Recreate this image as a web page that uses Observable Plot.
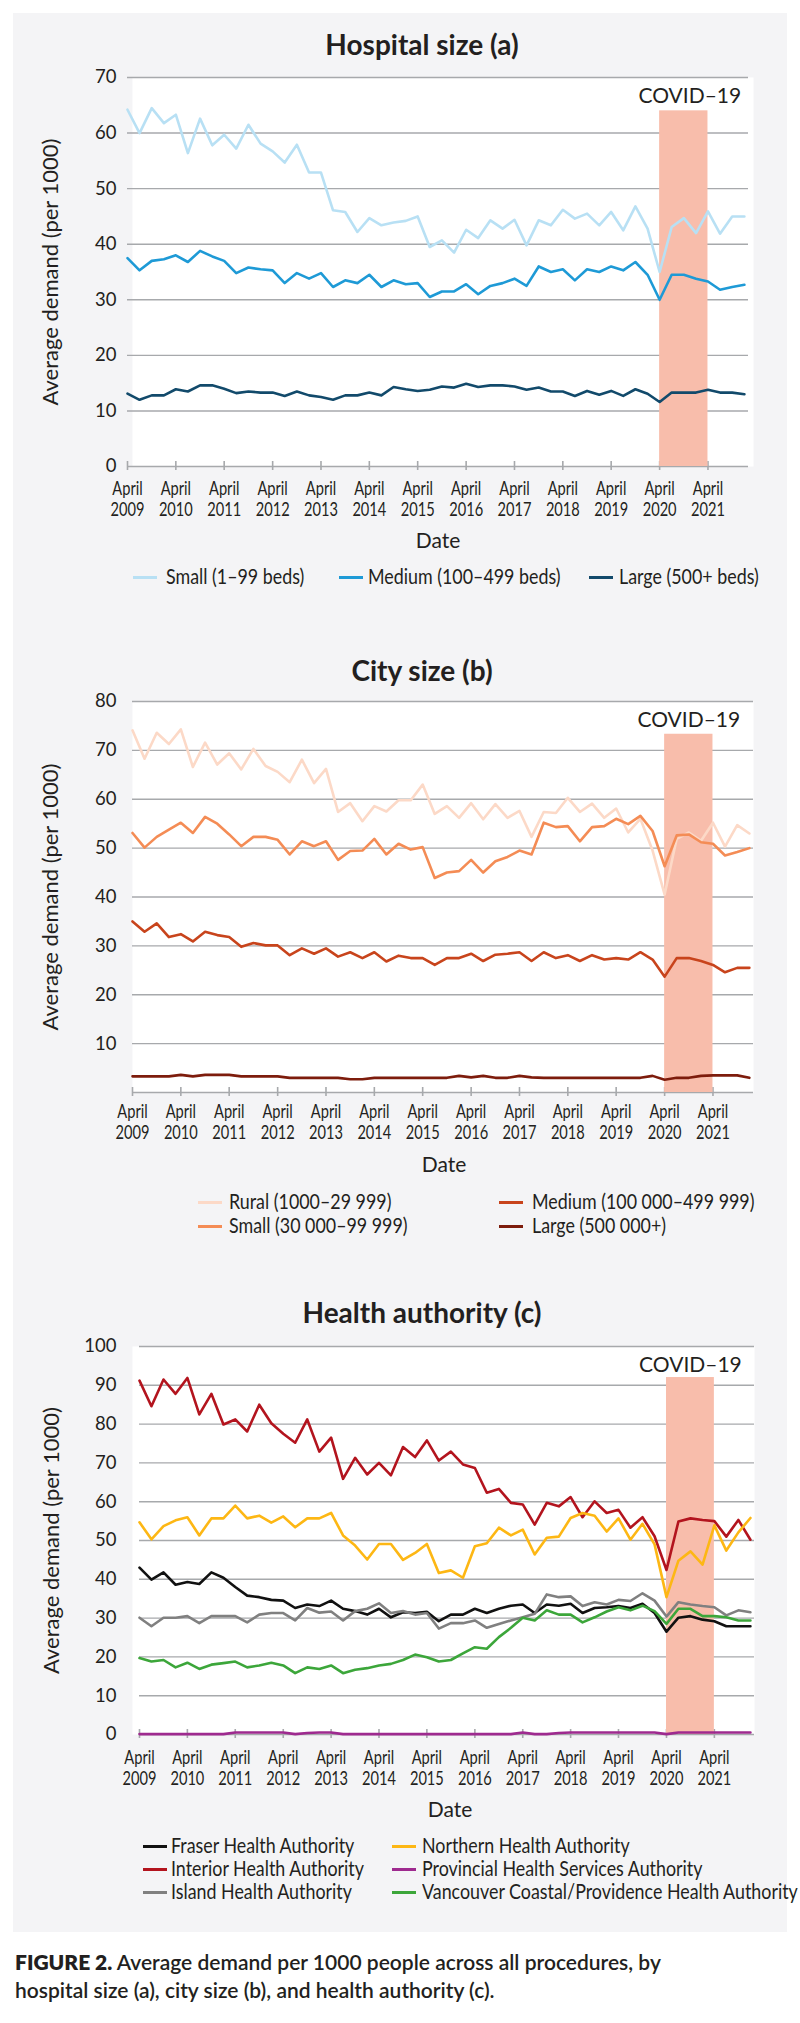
<!DOCTYPE html>
<html><head><meta charset="utf-8">
<script src="https://cdn.jsdelivr.net/npm/d3@7"></script>
<script src="https://cdn.jsdelivr.net/npm/@observablehq/plot@0.6"></script>
<style>
body{margin:0;background:#fff;font-family:Lato,"Open Sans",sans-serif;color:#231f20;}
#page{position:relative;width:800px;height:2023px;overflow:hidden;}
#panel{position:absolute;left:13px;top:13px;width:774px;height:1919px;background:#f4f4f6;}
.abs{position:absolute;white-space:nowrap;line-height:1;}
.title{font-weight:700;font-size:28px;transform:translateX(-50%);}
.sw{position:absolute;height:3px;width:24px;}
.lt{font-size:21px;transform:scaleX(0.85);transform-origin:0 0;}
.cap{position:absolute;left:15px;top:1948px;font-size:21px;line-height:28px;font-weight:600;white-space:nowrap;color:#231f20;}
.cap b{font-weight:800;}
</style></head><body><div id="page"><div id="panel"></div></div>
<script>
// ---------- data ----------
const tickYears = [2009,2010,2011,2012,2013,2014,2015,2016,2017,2018,2019,2020,2021];
const covidStart = "2020-04-01";
const covidEnd = "2021-04-01";

const hospitalNames = ["Small (1\u201399 beds)", "Medium (100\u2013499 beds)", "Large (500+ beds)"];
const hospitalColors = ["#b8e0f4", "#1e9ad6", "#124a6b"];
const hospitalSmall = [64.2,60.0,64.5,61.8,63.3,56.4,62.6,57.8,59.7,57.2,61.5,58.1,56.7,54.7,57.9,52.9,52.9,46.1,45.8,42.2,44.7,43.4,43.9,44.2,45.0,39.5,40.7,38.5,42.6,41.1,44.3,42.8,44.4,39.8,44.3,43.4,46.2,44.6,45.5,43.4,45.8,42.5,46.8,42.8,35.0,43.1,44.7,42.0,45.9,41.9,45.0,45.0];
const hospitalMedium = [37.5,35.3,37,37.3,38,36.8,38.8,37.8,37,34.8,35.8,35.5,35.3,33,34.8,33.8,34.8,32.3,33.5,33,34.5,32.3,33.5,32.8,33,30.5,31.5,31.5,32.8,31,32.5,33,33.8,32.5,36,35,35.5,33.5,35.5,35,36,35.3,36.8,34.5,30,34.5,34.5,33.8,33.3,31.8,32.3,32.7];
const hospitalLarge = [13.1,12.0,12.8,12.8,13.9,13.5,14.6,14.6,14.0,13.2,13.5,13.3,13.3,12.7,13.5,12.8,12.5,12.0,12.8,12.8,13.3,12.8,14.3,13.9,13.6,13.8,14.4,14.2,14.9,14.3,14.6,14.6,14.4,13.8,14.2,13.5,13.5,12.7,13.6,12.9,13.6,12.7,13.9,13.1,11.6,13.3,13.3,13.3,13.8,13.3,13.3,13.0];

const cityNames = ["Rural (1000\u201329 999)", "Small (30 000\u201399 999)", "Medium (100 000\u2013499 999)", "Large (500 000+)"];
const cityColors = ["#fcd9c7", "#f48c55", "#c8441c", "#7d1c0c"];
const cityRural = [74.1,68.3,73.6,71.3,74.3,66.6,71.6,67.1,69.4,66.1,70.3,66.8,65.6,63.5,68.1,63.3,66.2,57.4,59.2,55.5,58.6,57.5,59.8,59.8,63.0,57.0,58.6,56.2,59.2,55.9,59.0,56.2,57.6,52.3,57.4,57.2,60.3,57.4,59.1,56.2,58.1,53.2,56.0,49.5,40.5,51.9,53.2,51.5,55.2,50.3,54.7,53.0];
const citySmall = [53.1,50.1,52.3,53.8,55.2,53.1,56.4,55.0,52.8,50.4,52.3,52.3,51.7,48.7,51.4,50.4,51.4,47.6,49.4,49.5,51.9,48.7,50.9,49.7,50.2,43.9,45.0,45.3,47.6,45.0,47.3,48.2,49.5,48.7,55.2,54.3,54.5,51.4,54.3,54.5,56.0,54.9,56.6,53.5,46.3,52.6,52.8,51.2,50.9,48.5,49.2,50.0];
const cityMedium = [35.0,32.9,34.6,31.8,32.4,30.9,32.9,32.2,31.8,29.8,30.6,30.1,30.1,28.1,29.5,28.4,29.5,27.8,28.7,27.5,28.7,26.8,28.0,27.5,27.5,26.1,27.5,27.5,28.4,26.9,28.2,28.4,28.7,26.9,28.7,27.5,28.1,26.9,28.1,27.2,27.5,27.2,28.7,27.2,23.7,27.5,27.5,26.9,26.1,24.6,25.5,25.5];
const cityLarge = [3.3,3.3,3.3,3.3,3.6,3.3,3.6,3.6,3.6,3.3,3.3,3.3,3.3,3.0,3.0,3.0,3.0,3.0,2.7,2.7,3.0,3.0,3.0,3.0,3.0,3.0,3.0,3.4,3.1,3.4,3.0,3.0,3.4,3.1,3.0,3.0,3.0,3.0,3.0,3.0,3.0,3.0,3.0,3.4,2.6,3.0,3.0,3.4,3.5,3.5,3.5,3.0];

const haNames = ["Fraser Health Authority", "Interior Health Authority", "Island Health Authority", "Northern Health Authority", "Provincial Health Services Authority", "Vancouver Coastal/Providence Health Authority"];
const haColors = ["#111111", "#b3141e", "#808080", "#fdb714", "#9e2a8f", "#3ca63a"];
const haFraser = [43.0,39.9,41.8,38.6,39.3,38.8,41.8,40.4,38.0,35.8,35.4,34.7,34.5,32.6,33.5,33.1,34.5,32.4,31.8,30.9,32.4,30.2,31.5,31.3,31.6,29.2,30.9,30.9,32.4,31.3,32.4,33.2,33.5,31.3,33.5,33.2,33.7,31.3,32.6,32.8,33.1,32.6,33.7,31.3,26.5,30.1,30.5,29.6,29.2,27.9,27.9,27.9];
const haInterior = [91.2,84.6,91.5,87.8,91.9,82.5,87.8,79.9,81.2,78.1,85.0,80.2,77.5,75.2,81.2,72.9,76.5,65.9,71.3,67.0,70.0,66.8,74.1,71.5,75.8,70.6,72.9,69.6,68.7,62.3,63.3,59.7,59.3,54.1,59.7,58.8,61.2,56.0,60.1,57.1,57.9,53.3,56.0,51.1,42.4,54.9,55.7,55.3,55.0,51.0,55.3,50.2];
const haIsland = [30.1,27.9,30.1,30.1,30.5,28.7,30.5,30.5,30.5,28.9,30.9,31.3,31.3,29.4,32.6,31.4,31.7,29.4,31.8,32.4,33.8,31.3,31.8,30.9,31.3,27.3,28.7,28.7,29.4,27.5,28.5,29.4,30.2,31.1,36.1,35.4,35.6,33.1,34.1,33.5,34.7,34.4,36.4,34.5,30.4,34.1,33.5,33.1,32.8,30.7,32.0,31.5];
const haNorthern = [54.7,50.3,53.7,55.2,56.0,51.3,55.7,55.7,59.0,55.7,56.4,54.6,56.2,53.4,55.7,55.7,57.1,51.3,48.7,45.1,49.1,49.1,45.0,46.8,49.1,41.6,42.3,40.4,48.5,49.3,53.3,51.3,52.8,46.4,50.7,51.0,55.8,57.1,56.4,52.3,55.7,50.2,54.3,49.0,35.4,44.8,47.2,43.8,53.9,47.4,52.1,55.8];
const haProvincial = [0.1,0.1,0.1,0.1,0.1,0.1,0.1,0.1,0.5,0.5,0.5,0.5,0.5,0.1,0.4,0.5,0.5,0.1,0.1,0.1,0.1,0.1,0.1,0.1,0.1,0.1,0.1,0.1,0.1,0.1,0.1,0.1,0.5,0.1,0.1,0.4,0.5,0.5,0.5,0.5,0.5,0.5,0.5,0.5,0.1,0.5,0.5,0.5,0.5,0.5,0.5,0.5];
const haVancouver = [19.7,18.8,19.2,17.3,18.5,16.9,18.0,18.4,18.8,17.3,17.8,18.5,17.8,15.8,17.3,16.9,17.8,15.8,16.7,17.1,17.8,18.2,19.2,20.6,19.9,18.8,19.2,20.9,22.5,22.1,25.1,27.5,30.1,29.4,32.0,30.9,30.9,28.9,30.2,31.7,32.8,32.0,33.2,31.8,28.5,32.4,32.4,30.5,30.5,30.2,29.4,29.4];

// ---------- build ----------
const page = document.getElementById("page");
const quarters = d3.utcMonth.every(3).range(new Date(Date.UTC(2009, 3, 1)), new Date(Date.UTC(2022, 1, 1)));
const tickDates = tickYears.map(y => new Date(Date.UTC(y, 3, 1)));
const xDomain = [new Date(Date.UTC(2009, 3, 1)), new Date(Date.UTC(2022, 1, 1))];
const gridColor = "#a7a9ac";
const bandColor = "#f8bdab";

function addDiv(cls, html, left, top) {
  const d = document.createElement("div");
  d.className = "abs " + cls;
  d.innerHTML = html;
  d.style.left = left + "px";
  d.style.top = top + "px";
  page.appendChild(d);
  return d;
}

function makeChart(cfg) {
  const rows = [];
  cfg.values.forEach((vals, k) => vals.forEach((v, i) => rows.push({date: quarters[i], value: v, name: cfg.names[k]})));
  const band = [{start: new Date(covidStart), end: new Date(covidEnd), top: cfg.bandTop}];
  const svg = Plot.plot({
    width: 800, height: cfg.height,
    marginLeft: cfg.ml, marginRight: cfg.mr, marginTop: cfg.mt, marginBottom: cfg.mb,
    style: {fontFamily: "Lato, sans-serif", fontSize: "18px", color: "#231f20", background: "none", overflow: "visible"},
    x: {type: "utc", domain: xDomain},
    y: {domain: cfg.yDomain},
    color: {domain: cfg.names, range: cfg.colors},
    marks: [
      Plot.frame({fill: "white", stroke: null, insetLeft: cfg.fl, insetRight: cfg.fr}),
      Plot.ruleY(cfg.grid, {stroke: gridColor, strokeWidth: 1.4}),
      Plot.ruleY([0], {stroke: gridColor, strokeWidth: 1.6}),
      Plot.ruleX(tickDates, {x: d => d, y1: 0, y2: 0, insetTop: 4, insetBottom: 5, stroke: gridColor, strokeWidth: 1.6}),
      Plot.rectY(band, {x1: "start", x2: "end", y1: 0, y2: "top", fill: bandColor}),
      Plot.line(rows, {x: "date", y: "value", z: "name", stroke: "name", strokeWidth: 2.6}),
      Plot.text(band, {x: d => new Date((d.start.getTime() + d.end.getTime()) / 2), y: "top", text: () => "COVID\u201319", dx: cfg.covDx, dy: cfg.covDy, lineAnchor: "bottom", fontSize: 21}),
      Plot.axisY({ticks: cfg.yTicks, tickSize: 0, tickPadding: cfg.tp, fontSize: 18.5, label: null}),
      Plot.axisX({ticks: tickDates, tickSize: 0, tickPadding: cfg.xp, tickFormat: d => "April\n" + d.getUTCFullYear(), fontSize: 19, lineHeight: 1.15, label: null}),
      Plot.text(["Average demand (per 1000)"], {frameAnchor: "left", rotate: -90, dx: cfg.ylx, textAnchor: "middle", lineAnchor: "middle", fontSize: 22}),
      Plot.text(["Date"], {frameAnchor: "bottom", dy: cfg.dateDy, dx: cfg.dateDx, lineAnchor: "bottom", fontSize: 21})
    ]
  });
  d3.select(svg).selectAll('g[aria-label="x-axis tick label"] text')
    .attr("transform", function() { return (this.getAttribute("transform") || "") + " scale(0.77,1)"; });
  svg.style.position = "absolute";
  svg.style.left = "0px";
  svg.style.top = cfg.top + "px";
  page.appendChild(svg);

  addDiv("title", cfg.title, 422, cfg.titleBaseline - 24.8);
  cfg.legend.forEach(([k, sx, tx, base]) => {
    const s = document.createElement("div");
    s.className = "sw";
    s.style.left = sx + "px";
    s.style.width = "24px";
    s.style.top = (base - 8) + "px";
    s.style.background = cfg.colors[k];
    page.appendChild(s);
    addDiv("lt", cfg.names[k], tx, base - 18.6);
  });
}

makeChart({
  title: "Hospital size (a)", titleBaseline: 55,
  names: hospitalNames, colors: hospitalColors,
  values: [hospitalSmall, hospitalMedium, hospitalLarge],
  top: 60, height: 506, ml: 127, mr: 52, mt: 17, mb: 100,
  yDomain: [0, 70], yTicks: [0,10,20,30,40,50,60,70], grid: [10,20,30,40,50,60,70],
  fl: 5, fr: -5, bandTop: 64, covDx: 6, covDy: -8,
  tp: 11, xp: 12.5, ylx: -77, dateDy: 81, dateDx: 0,
  legend: [[0, 133, 166, 584], [1, 339, 368, 584], [2, 589, 619, 584]]
});

makeChart({
  title: "City size (b)", titleBaseline: 681,
  names: cityNames, colors: cityColors,
  values: [cityRural, citySmall, cityMedium, cityLarge],
  top: 681, height: 511, ml: 132, mr: 47, mt: 20, mb: 100,
  yDomain: [0, 80], yTicks: [10,20,30,40,50,60,70,80], grid: [10,20,30,40,50,60,70,80],
  fl: 0, fr: 0, bandTop: 73.3, covDx: 0, covDy: -7,
  tp: 16, xp: 9.5, ylx: -82, dateDy: 79, dateDx: 1,
  legend: [[0, 198, 229, 1209], [2, 499, 532, 1209], [1, 198, 229, 1233], [3, 499, 532, 1233]]
});

makeChart({
  title: "Health authority (c)", titleBaseline: 1323,
  names: haNames, colors: haColors,
  values: [haFraser, haInterior, haIsland, haNorthern, haProvincial, haVancouver],
  top: 1326, height: 508, ml: 139, mr: 46, mt: 20, mb: 100,
  yDomain: [0, 100], yTicks: [0,10,20,30,40,50,60,70,80,90,100], grid: [10,20,30,40,50,60,70,80,90,100],
  fl: -7, fr: 0, bandTop: 92, covDx: 0, covDy: -6,
  tp: 23, xp: 13.5, ylx: -88, dateDy: 82, dateDx: 3,
  legend: [[0, 143, 171, 1853], [3, 392, 422, 1853], [1, 143, 171, 1876], [4, 392, 422, 1876], [2, 143, 171, 1899], [5, 392, 422, 1899]]
});

const cap = document.createElement("div");
cap.className = "cap";
cap.innerHTML = "<b>FIGURE 2.</b> Average demand per 1000 people across all procedures, by<br>hospital size (a), city size (b), and health authority (c).";
page.appendChild(cap);
</script></body></html>
